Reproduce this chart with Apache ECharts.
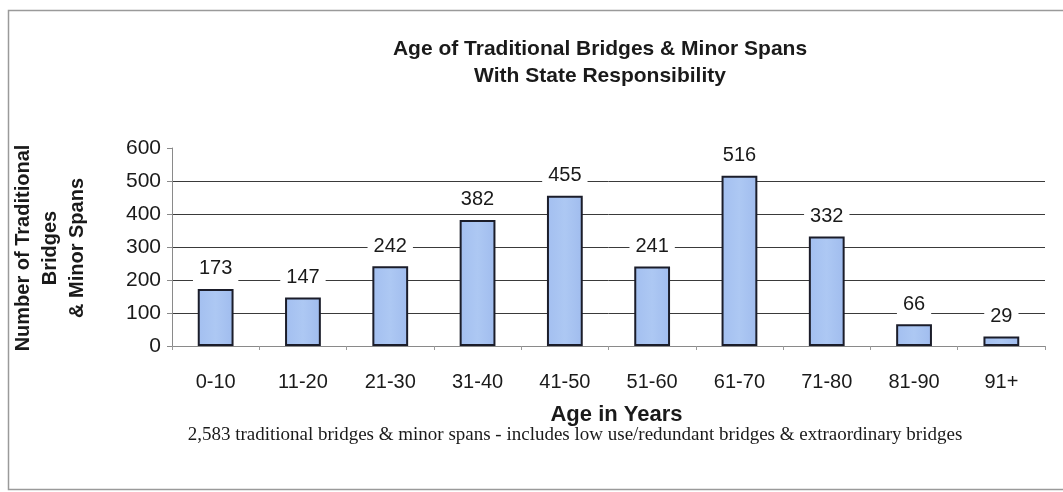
<!DOCTYPE html>
<html>
<head>
<meta charset="utf-8">
<script src="https://cdn.jsdelivr.net/npm/echarts@6/dist/echarts.min.js"></script>
<style>
  html, body { margin: 0; padding: 0; background: #fff; }
  #chart { width: 1063px; height: 492px; }
</style>
</head>
<body>
<div id="chart"></div>
<script>
// Age bands and bridge counts
const ageBands = ['0-10', '11-20', '21-30', '31-40', '41-50', '51-60', '61-70', '71-80', '81-90', '91+'];
const bridgeCounts = [173, 147, 242, 382, 455, 241, 516, 332, 66, 29];
const yTicks = [0, 100, 200, 300, 400, 500, 600];

const titleLines = ['Age of Traditional Bridges & Minor Spans', 'With State Responsibility'];
const yAxisTitle = ['Number of Traditional', 'Bridges', '& Minor Spans'];
const xAxisTitle = 'Age in Years';
const footnote = '2,583 traditional bridges & minor spans - includes low use/redundant bridges & extraordinary bridges';

const sans = '"Liberation Sans", Arial, sans-serif';
const serif = '"Liberation Serif", "Times New Roman", serif';

const chart = echarts.init(document.getElementById('chart'), null, { renderer: 'canvas' });

chart.setOption({
  backgroundColor: '#ffffff',
  animation: false,
  title: {
    text: titleLines.join('\n'),
    left: 595,
    top: 31,
    textAlign: 'center',
    textStyle: {
      fontFamily: sans,
      fontSize: 21,
      fontWeight: 'bold',
      color: '#1a1a1a',
      lineHeight: 27
    }
  },
  grid: { left: 172, right: 18, top: 148, bottom: 146, containLabel: false },
  xAxis: {
    type: 'category',
    data: ageBands,
    name: xAxisTitle,
    nameLocation: 'middle',
    nameGap: 58,
    nameTextStyle: {
      fontFamily: sans, fontSize: 22, fontWeight: 'bold', color: '#1a1a1a',
      padding: [0, 0, 0, 16]
    },
    axisLine: { show: true, lineStyle: { color: '#8a8a8a', width: 1 } },
    axisTick: { show: true, alignWithLabel: false, length: 4, lineStyle: { color: '#9a9a9a' } },
    axisLabel: { fontFamily: sans, fontSize: 20, color: '#1a1a1a', margin: 26 }
  },
  yAxis: {
    type: 'value',
    min: yTicks[0],
    max: yTicks[yTicks.length - 1],
    interval: 100,
    axisLine: { show: true, lineStyle: { color: '#8a8a8a', width: 1 } },
    axisTick: { show: true, length: 5, lineStyle: { color: '#8a8a8a' } },
    axisLabel: {
      fontFamily: sans, fontSize: 21, color: '#1a1a1a', margin: 11,
      formatter: v => (yTicks.includes(v) ? String(v) : '')
    },
    splitLine: {
      show: true,
      lineStyle: { color: '#3a3a3a', width: 1 },
      showMinLine: false,
      showMaxLine: false
    }
  },
  series: [{
    type: 'bar',
    data: bridgeCounts,
    barWidth: '41%',
    itemStyle: {
      color: {
        type: 'linear', x: 0, y: 0, x2: 1, y2: 0,
        colorStops: [
          { offset: 0, color: '#a3bff0' },
          { offset: 0.5, color: '#adc8f3' },
          { offset: 1, color: '#a0bcee' }
        ]
      },
      borderColor: '#1b1d2a',
      borderWidth: 2
    },
    label: {
      show: true,
      position: 'top',
      distance: 8,
      fontFamily: sans,
      fontSize: 20,
      color: '#1a1a1a',
      backgroundColor: '#ffffff',
      padding: [2, 6]
    }
  }],
  graphic: [
    {
      type: 'rect',
      shape: { x: 8.5, y: 10.5, width: 1070, height: 479 },
      style: { fill: 'none', stroke: '#9a9a9a', lineWidth: 1.5 },
      silent: true
    },
    {
      type: 'text',
      x: 50,
      y: 248,
      rotation: Math.PI / 2,
      style: {
        text: yAxisTitle.join('\n'),
        fontFamily: sans,
        fontSize: 20,
        fontWeight: 'bold',
        fill: '#1a1a1a',
        lineHeight: 27,
        align: 'center',
        verticalAlign: 'middle'
      },
      silent: true
    },
    {
      type: 'text',
      x: 575,
      y: 435,
      style: {
        text: footnote,
        fontFamily: serif,
        fontSize: 19,
        fill: '#1a1a1a',
        align: 'center',
        verticalAlign: 'middle'
      },
      silent: true
    }
  ]
});
</script>
</body>
</html>
